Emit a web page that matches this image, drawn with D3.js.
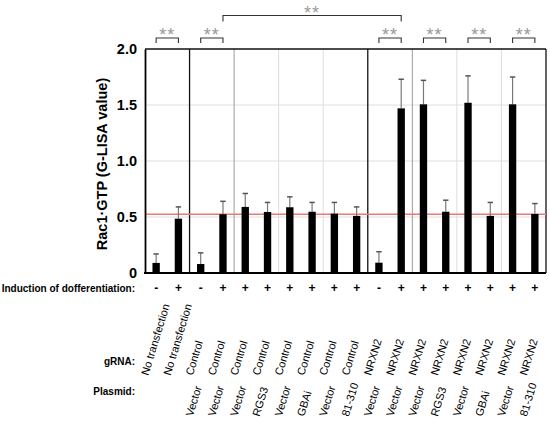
<!DOCTYPE html>
<html>
<head>
<meta charset="utf-8">
<script src="https://cdn.jsdelivr.net/npm/d3@7"></script>
<style>
  body { margin: 0; background: #fff; }
  svg { font-family: "Liberation Sans", Arial, sans-serif; }
</style>
</head>
<body>
<div id="chart"></div>
<script>
// data
const induction = ["-", "+", "-", "+", "+", "+", "+", "+", "+", "+", "-", "+", "+", "+", "+", "+", "+", "+"];
const gRNA = ["No transfection", "No transfection",
    "Control", "Control", "Control", "Control", "Control", "Control", "Control", "Control",
    "NRXN2", "NRXN2", "NRXN2", "NRXN2", "NRXN2", "NRXN2", "NRXN2", "NRXN2"];
const plasmid = ["", "",
    "Vector", "Vector", "Vector", "RGS3", "Vector", "GBAi", "Vector", "81-310",
    "Vector", "Vector", "Vector", "RGS3", "Vector", "GBAi", "Vector", "81-310"];
const values = [0.09, 0.485, 0.08, 0.525, 0.59, 0.545, 0.587, 0.547, 0.53, 0.51,
    0.092, 1.47, 1.506, 0.547, 1.52, 0.51, 1.506, 0.527];
const errors = [0.08, 0.105, 0.10, 0.115, 0.12, 0.085, 0.093, 0.083, 0.10, 0.08,
    0.098, 0.26, 0.214, 0.103, 0.24, 0.12, 0.244, 0.093];
const refValue = 0.525;
const yTicks = [0, 0.5, 1.0, 1.5, 2.0];
const yTickLabels = ["0", "0.5", "1.0", "1.5", "2.0"];
const pairTests = [[0, 1], [2, 3], [10, 11], [12, 13], [14, 15], [16, 17]];
const longTest = [3, 11];
const groupBreaks = [2, 10];   // black separators (bar index where a group starts)
const subBreaks = [4, 12];     // mid grey separators

const width = 550, height = 424;
const plotL = 145, plotR = 546, plotT = 49, plotB = 273;

const svg = d3.select("#chart").append("svg")
    .attr("width", width)
    .attr("height", height);

const idx = d3.range(values.length);
const x = d3.scaleBand().domain(idx).range([plotL, plotR]).paddingInner(0.67).paddingOuter(0.335);
const step = x.step();
const cx = i => x(i) + x.bandwidth() / 2;
const edge = i => plotL + i * step;   // left edge of slot i

const y = d3.scaleLinear().domain([0, 2]).range([plotB, plotT]);

// gridlines
const grid = svg.append("g");
grid.selectAll("line.h")
    .data(yTicks.filter(t => t > 0 && t < 2))
    .join("line")
    .attr("x1", plotL).attr("x2", plotR)
    .attr("y1", d => y(d)).attr("y2", d => y(d))
    .attr("stroke", "#dedede").attr("stroke-width", 1);

const vlines = d3.range(2, values.length, 2);
grid.selectAll("line.v")
    .data(vlines)
    .join("line")
    .attr("x1", d => edge(d)).attr("x2", d => edge(d))
    .attr("y1", plotT).attr("y2", plotB)
    .attr("stroke", d => groupBreaks.includes(d) ? "#111" : subBreaks.includes(d) ? "#9a9a9a" : "#dedede")
    .attr("stroke-width", d => groupBreaks.includes(d) ? 1.3 : 1);

// frame top / right
svg.append("line").attr("x1", plotL).attr("x2", plotR).attr("y1", plotT).attr("y2", plotT)
    .attr("stroke", "#111").attr("stroke-width", 1.3);
svg.append("line").attr("x1", plotR).attr("x2", plotR).attr("y1", plotT).attr("y2", plotB)
    .attr("stroke", "#111").attr("stroke-width", 1.3);

// reference line
svg.append("line")
    .attr("x1", plotL).attr("x2", plotR)
    .attr("y1", y(refValue)).attr("y2", y(refValue))
    .attr("stroke", "#e87a7a").attr("stroke-width", 1.5);

// error bars
const err = svg.append("g").attr("stroke", "#7a7a7a");
err.selectAll("line.stem")
    .data(idx)
    .join("line")
    .attr("x1", cx).attr("x2", cx)
    .attr("y1", i => y(values[i])).attr("y2", i => y(values[i] + errors[i]))
    .attr("stroke-width", 1.2);
err.selectAll("line.cap")
    .data(idx)
    .join("line")
    .attr("x1", i => cx(i) - 2.7).attr("x2", i => cx(i) + 2.7)
    .attr("y1", i => y(values[i] + errors[i])).attr("y2", i => y(values[i] + errors[i]))
    .attr("stroke", "#555")
    .attr("stroke-width", 1.5);

// bars
svg.append("g").selectAll("rect")
    .data(idx)
    .join("rect")
    .attr("x", i => x(i))
    .attr("width", x.bandwidth())
    .attr("y", i => y(values[i]))
    .attr("height", i => plotB - y(values[i]))
    .attr("fill", "#000");

// axes
const yAxis = svg.append("g")
    .attr("transform", `translate(${plotL},0)`)
    .call(d3.axisLeft(y).tickValues(yTicks).tickSize(0).tickPadding(8)
        .tickFormat((d, i) => yTickLabels[i]));
yAxis.select(".domain").attr("stroke", "#000").attr("stroke-width", 1.8);
yAxis.selectAll("text")
    .attr("font-family", "Liberation Sans, Arial, sans-serif")
    .attr("font-size", 14.5).attr("font-weight", "bold").attr("fill", "#000");

svg.append("line")
    .attr("x1", plotL - 1).attr("x2", plotR)
    .attr("y1", plotB).attr("y2", plotB)
    .attr("stroke", "#000").attr("stroke-width", 1.8);

svg.append("text")
    .attr("transform", `translate(107,164) rotate(-90)`)
    .attr("text-anchor", "middle")
    .attr("font-size", 14.5).attr("font-weight", "bold")
    .text("Rac1·GTP (G-LISA value)");

// significance brackets
const brk = svg.append("g");
function bracket(a, b, yLine, yEnd) {
    brk.append("path")
        .attr("d", `M${cx(a)},${yEnd}V${yLine}H${cx(b)}V${yEnd}`)
        .attr("fill", "none").attr("stroke", "#333").attr("stroke-width", 1.1);
    brk.append("text")
        .attr("x", (cx(a) + cx(b)) / 2)
        .attr("y", yLine - 2)
        .attr("text-anchor", "middle")
        .attr("font-size", 18).attr("fill", "#999")
        .attr("letter-spacing", 1)
        .text("**");
}
pairTests.forEach(p => bracket(p[0], p[1], 38, 43));
bracket(longTest[0], longTest[1], 15.5, 21.5);
brk.selectAll("text").attr("dy", 5);

// row labels
const rowLabel = (txt, yy) => svg.append("text")
    .attr("x", 135).attr("y", yy)
    .attr("text-anchor", "end")
    .attr("font-size", 10).attr("font-weight", "bold")
    .text(txt);
rowLabel("Induction of dofferentiation:", 292);
rowLabel("gRNA:", 365);
rowLabel("Plasmid:", 395);

svg.append("g").selectAll("text")
    .data(idx)
    .join("text")
    .attr("x", cx).attr("y", 292)
    .attr("text-anchor", "middle")
    .attr("font-size", 12).attr("font-weight", "bold")
    .text(i => induction[i]);

svg.append("g").selectAll("text")
    .data(idx)
    .join("text")
    .attr("transform", i => `translate(${cx(i) - 8},376) rotate(-73)`)
    .attr("font-size", 11)
    .text(i => gRNA[i]);

svg.append("g").selectAll("text")
    .data(idx.filter(i => plasmid[i] !== ""))
    .join("text")
    .attr("transform", i => `translate(${cx(i) - 8},417) rotate(-73)`)
    .attr("font-size", 11)
    .text(i => plasmid[i]);
</script>
</body>
</html>
